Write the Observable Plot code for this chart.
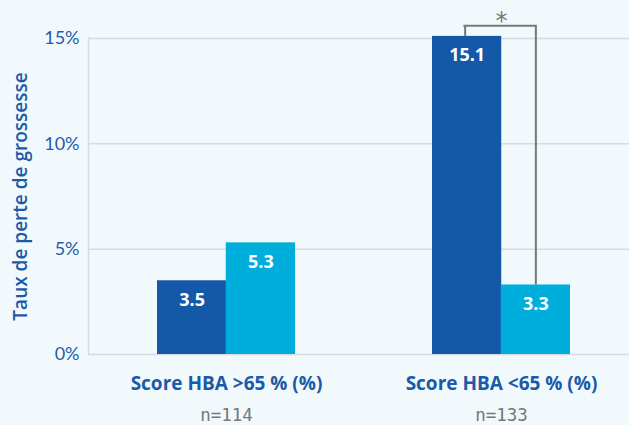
<!DOCTYPE html>
<html>
<head>
<meta charset="utf-8">
<script src="https://cdn.jsdelivr.net/npm/d3@7"></script>
<script src="https://cdn.jsdelivr.net/npm/@observablehq/plot@0.6"></script>
<style>
  html, body { margin: 0; padding: 0; background: #f1f9fd; overflow: hidden; }
  #chart svg { display: block; }
</style>
</head>
<body>
<div id="chart"></div>
<script>
const groups = ["Score HBA >65 % (%)", "Score HBA <65 % (%)"];
const nLabels = ["n=114", "n=133"];
const seriesA = [3.5, 15.1];
const seriesB = [5.3, 3.3];
const yTicks = [0, 5, 10, 15];
const yTitle = "Taux de perte de grossesse";
const sigGroup = groups[1];
const sigTop = 15.6;
const sigStarY = 16.2;

const dataA = groups.map((g, i) => ({group: g, value: seriesA[i], n: nLabels[i]}));
const dataB = groups.map((g, i) => ({group: g, value: seriesB[i]}));
const sig = [{group: sigGroup, top: sigTop, a: seriesA[1], b: seriesB[1], star: sigStarY}];

const W = 629, H = 425;
const mL = 88, mT = 38, mB = 71;
const xRange = [88, 638];
const q = (xRange[1] - xRange[0]) / 2 * 0.5 / 4; // quarter of band width

const dark = "#1459a8", light = "#00aedb", blue = "#1a5aa8", gridC = "#d7dce0", gray = "#777";

const plot = Plot.plot({
  width: W, height: H,
  marginLeft: mL, marginRight: 0, marginTop: mT, marginBottom: mB,
  style: {background: "transparent", overflow: "visible"},
  x: {domain: groups, range: xRange, paddingInner: 0.5, paddingOuter: 0.25, axis: null},
  y: {domain: [0, 15], axis: null},
  marks: [
    Plot.ruleY(yTicks, {stroke: gridC, strokeWidth: 1.5}),
    Plot.axisY(yTicks, {tickSize: 0, tickPadding: 9, tickFormat: d => d + "%", fill: "#245cab",
      fontSize: 18, fontFamily: "Lato", fontWeight: 400, stroke: null}),
    Plot.frame({anchor: "left", stroke: gridC, strokeWidth: 1.5}),
    Plot.barY(dataA, {x: "group", y: "value", fill: dark, insetRight: 2 * q}),
    Plot.barY(dataB, {x: "group", y: "value", fill: light, insetLeft: 2 * q}),
    Plot.text(dataA, {x: "group", y: "value", text: d => d.value.toFixed(1), dx: -q, dy: 19,
      fill: "white", fontSize: 18, fontWeight: "bold", fontFamily: "Open Sans"}),
    Plot.text(dataB, {x: "group", y: "value", text: d => d.value.toFixed(1), dx: q, dy: 19,
      fill: "white", fontSize: 18, fontWeight: "bold", fontFamily: "Open Sans"}),
    Plot.ruleX(sig, {x: "group", y1: "a", y2: "top", dx: -q - 2, stroke: gray, strokeWidth: 2}),
    Plot.ruleX(sig, {x: "group", y1: "b", y2: "top", dx: q, stroke: gray, strokeWidth: 2}),
    Plot.tickY(sig, {x: "group", y: "top", insetLeft: q - 3, insetRight: q - 1, stroke: gray, strokeWidth: 2}),
    Plot.text(sig, {x: "group", y: "star", text: () => "*", fill: gray, fontSize: 24, fontFamily: "DejaVu Sans", dy: 8}),
    Plot.text(dataA, {x: "group", text: "group", frameAnchor: "bottom", dy: 35, fill: blue,
      fontSize: 19, fontWeight: "bold", fontFamily: "Open Sans"}),
    Plot.text(dataA, {x: "group", text: "n", frameAnchor: "bottom", dy: 66, fill: gray,
      fontSize: 17.5, fontFamily: "DejaVu Sans Mono"}),
    Plot.text([yTitle], {text: d => d, frameAnchor: "left", rotate: -90, dx: -68, textAnchor: "middle", fill: blue,
      fontSize: 19, fontWeight: 600, fontFamily: "Open Sans"})
  ]
});
document.getElementById("chart").appendChild(plot);
</script>
</body>
</html>
